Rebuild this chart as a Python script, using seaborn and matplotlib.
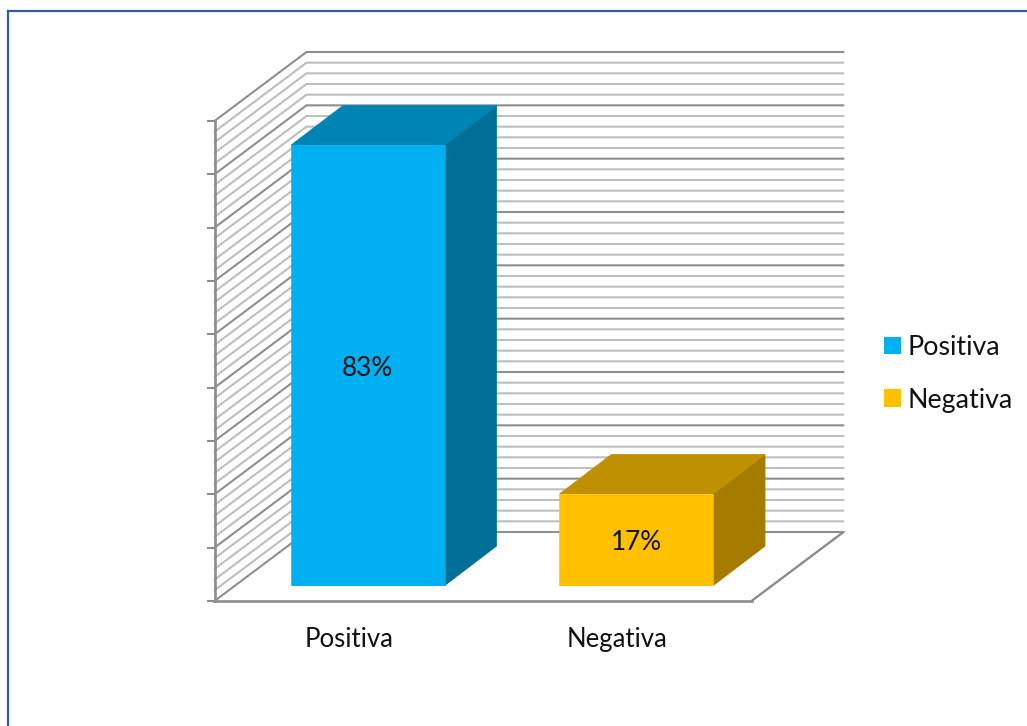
import numpy as np
import pandas as pd
import matplotlib
matplotlib.use("Agg")
import matplotlib.pyplot as plt
from matplotlib.lines import Line2D
from matplotlib.patches import Polygon
import seaborn as sns

categories = ["Positiva", "Negativa"]
values = [82.6, 17.2]
front_colors = ["#00B0F0", "#FFC000"]
side_colors = ["#006F98", "#A57C00"]
top_colors = ["#0084B4", "#BF9000"]
major_ticks = list(range(0, 91, 10))
minor_ticks = list(range(0, 91, 2))

W, H = 1027, 726
sns.set_theme(style="white")
plt.rcParams["font.family"] = ["Lato", "DejaVu Sans"]


def rect(x0, x1, y_bottom, y_top):
    return [x0 / W, 1 - y_bottom / H, (x1 - x0) / W, (y_bottom - y_top) / H]


fig = plt.figure(figsize=(W / 100, H / 100), dpi=100, facecolor="white")

# page border (only top and left are visible)
for xs, ys in [((8 / W, 8 / W), (0, 1 - 10.5 / H)), ((8 / W, 1), (1 - 10.5 / H, 1 - 10.5 / H))]:
    fig.add_artist(Line2D(xs, ys, color="#2F5D98", lw=1.6, solid_capstyle="projecting"))

# walls and floor: front plane of the 3D box
wall = fig.add_axes(rect(214.5, 751.5, 601, 121), zorder=1)
wall.set_xlim(-0.5, 1.5)
wall.set_ylim(0, 90)
wall.patch.set_visible(False)
for s in ["top", "right"]:
    wall.spines[s].set_visible(False)
for s in ["left", "bottom"]:
    wall.spines[s].set_color("#8C8C8C")
    wall.spines[s].set_linewidth(1.9)

depth_x = 92 / (537 / 2)  # in category units
depth_y = 69 / (480 / 90)  # in value units

for t in minor_ticks:
    major = t in major_ticks
    col = "#8E8E8E" if major else "#BEBEBE"
    wall.plot([-0.5, -0.5 + depth_x, 1.5 + depth_x], [t, t + depth_y, t + depth_y],
              color=col, lw=1.5, clip_on=False, solid_joinstyle="miter",
              zorder=3 if major else 2)
wall.plot([1.5, 1.5 + depth_x], [0, depth_y], color="#8C8C8C", lw=1.7, clip_on=False)

wall.set_yticks(major_ticks)
wall.set_yticklabels([])
wall.tick_params(axis="y", left=True, length=6, width=1.5, color="#8C8C8C")
wall.set_xticks([0, 1])
wall.set_xticklabels(categories, fontsize=18.5, color="#111111")
wall.tick_params(axis="x", bottom=False, pad=13)

# bars: front faces sit on a plane shifted into the box
ax = fig.add_axes(rect(233.5, 770.5, 585.7, 105.7), zorder=2)
df = pd.DataFrame({"cat": categories, "val": values})
sns.barplot(data=df, x="cat", y="val", hue="cat", palette=front_colors, width=0.572,
            dodge=False, legend=True, saturation=1, linewidth=0, ax=ax)
ax.set_xlim(-0.5, 1.5)
ax.set_ylim(0, 90)
ax.axis("off")
ax.patch.set_visible(False)

bar_dx = 52 / (537 / 2)
bar_dy = 39.6 / (480 / 90)
bars = [c.patches[0] for c in ax.containers]
for bar, fc, sc, tc in zip(bars, front_colors, side_colors, top_colors):
    x0, x1 = bar.get_x(), bar.get_x() + bar.get_width()
    h = bar.get_height()
    bar.set_zorder(1.5)
    bar.set_edgecolor(fc)
    bar.set_linewidth(0.4)
    ax.add_patch(Polygon([(x1, 0), (x1 + bar_dx, bar_dy), (x1 + bar_dx, h + bar_dy), (x1, h)],
                         closed=True, fc=sc, ec=sc, lw=0.5, clip_on=False))
    ax.add_patch(Polygon([(x0, h), (x0 + bar_dx, h + bar_dy), (x1 + bar_dx, h + bar_dy), (x1, h)],
                         closed=True, fc=tc, ec=tc, lw=0.5, clip_on=False))
for c in ax.containers:
    ax.bar_label(c, fmt="%.0f%%", label_type="center", fontsize=18.8, color="#111111", padding=-2)

handles, labels = ax.get_legend_handles_labels()
ax.legend(handles, labels, loc="upper left", bbox_to_anchor=(884 / W, 1 - 335 / H),
          bbox_transform=fig.transFigure, frameon=False, fontsize=19.3,
          handlelength=0.634, handleheight=0.634, handletextpad=0.24,
          labelspacing=1.03, borderpad=0, borderaxespad=0, labelcolor="#111111")

fig.savefig("out.png", dpi=100)
